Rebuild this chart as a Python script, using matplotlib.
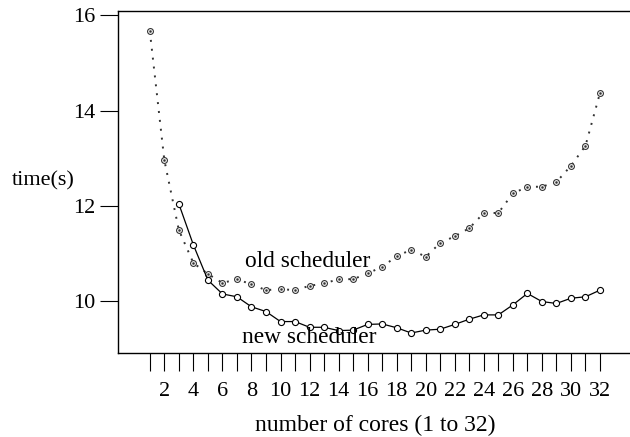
import matplotlib
matplotlib.use("Agg")
import matplotlib.pyplot as plt
import numpy as np

plt.rcParams['font.family'] = ['Liberation Serif', 'DejaVu Serif']

cores_old = list(range(1, 33))
old_times = [15.67, 12.96, 11.49, 10.80, 10.57, 10.38, 10.46, 10.35, 10.23, 10.25,
             10.23, 10.32, 10.37, 10.46, 10.46, 10.58, 10.72, 10.94, 11.08, 10.93,
             11.22, 11.36, 11.53, 11.85, 11.85, 12.26, 12.40, 12.40, 12.50, 12.84,
             13.26, 14.37]
cores_new = list(range(3, 33))
new_times = [12.04, 11.18, 10.44, 10.15, 10.09, 9.88, 9.78, 9.57, 9.57, 9.45,
             9.45, 9.38, 9.39, 9.51, 9.52, 9.44, 9.33, 9.39, 9.41, 9.51,
             9.62, 9.71, 9.71, 9.92, 10.16, 9.99, 9.95, 10.06, 10.09, 10.23]
xtick_positions = list(range(1, 33))
xtick_labels = [str(i) if i % 2 == 0 else "" for i in xtick_positions]
ytick_positions = [10, 12, 14, 16]

fig = plt.figure(figsize=(6.3, 4.37), dpi=100)
ax = fig.add_axes([118/630, 1 - 353/437, 1 - 118/630 + 0.01, (353 - 11)/437])

ax.plot(cores_old, old_times, color='#333333', lw=1.4, linestyle=(0, (1, 3.6)),
        marker='o', ms=4.2, mfc='white', mec='#333333', mew=0.8, zorder=3)
ax.plot(cores_old, old_times, linestyle='none', marker='o', ms=1.5,
        mfc='#333333', mec='#333333', mew=0.3, zorder=4)
ax.plot(cores_new, new_times, color='black', lw=0.9,
        marker='o', ms=4.4, mfc='white', mec='black', mew=0.8, zorder=3)

ax.text(11.9, 10.71, "old scheduler", fontsize=16.8, ha='center', va='baseline', zorder=5)
ax.text(11.95, 9.11, "new scheduler", fontsize=16.8, ha='center', va='baseline', zorder=5)

ax.set_xlim(-1.19, 34.5)
ax.set_ylim(8.91, 16.09)
ax.set_xticks(xtick_positions)
ax.set_xticklabels(xtick_labels)
ax.set_yticks(ytick_positions)
ax.tick_params(axis='x', direction='out', length=13, width=0.8, pad=8, labelsize=16)
ax.tick_params(axis='y', direction='out', length=13, width=0.8, pad=3, labelsize=16)
ax.spines['right'].set_visible(False)
for s in ['left', 'top', 'bottom']:
    ax.spines[s].set_linewidth(1.0)

fig.text(375/630, 1 - 431.5/437, "number of cores (1 to 32)", fontsize=17,
         ha='center', va='baseline')
fig.text(43.5/630, 1 - 181/437, "time(s)", fontsize=16, ha='center', va='center')

fig.savefig("out.png", dpi=100)
